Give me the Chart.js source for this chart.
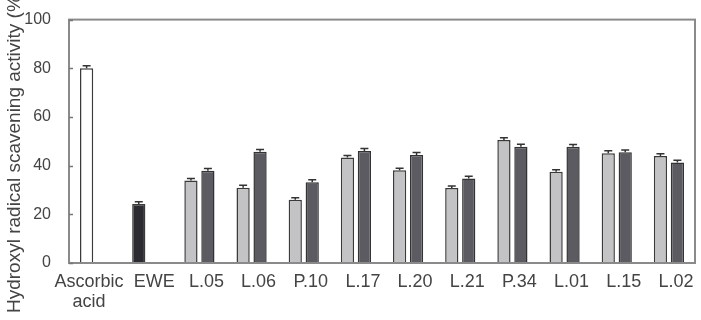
<!DOCTYPE html>
<html>
<head>
<meta charset="utf-8">
<script src="https://cdn.jsdelivr.net/npm/chart.js@4"></script>
<style>
  html, body { margin: 0; padding: 0; background: #fff; }
  #wrap { width: 701px; height: 320px; }
</style>
</head>
<body>
<div id="wrap"><canvas id="chart"></canvas></div>
<script>
const categories = [['Ascorbic', 'acid'], 'EWE', 'L.05', 'L.06', 'P.10', 'L.17', 'L.20', 'L.21', 'P.34', 'L.01', 'L.15', 'L.02'];
// first bar of each group (ascorbic acid, EWE, then light bars)
const firstValues = [80, 24.2, 33.9, 30.9, 26.0, 43.3, 38.1, 30.8, 50.5, 37.5, 45.1, 44.0];
const firstErrors = [1.0, 1.0, 0.8, 1.0, 0.8, 0.9, 0.8, 0.8, 1.0, 0.8, 1.0, 0.9];
// second (dark) bar of each group
const secondValues = [null, null, 37.9, 45.7, 33.2, 46.0, 44.4, 34.7, 47.8, 47.8, 45.5, 41.3];
const secondErrors = [null, null, 0.9, 0.9, 1.0, 1.0, 1.0, 0.9, 1.0, 0.9, 0.9, 0.9];
const yTicks = [0, 20, 40, 60, 80, 100];
const yTitle = 'Hydroxyl radical scavening activity (%)';

const FONT = 'Liberation Sans, Arial, sans-serif';
const TEXT = '#444';
const firstColors = firstValues.map((v, i) => i === 0 ? '#ffffff' : (i === 1 ? '#2b2b31' : '#c3c3c5'));

const errorBars = {
  id: 'errorBars',
  afterDatasetsDraw(chart) {
    const ctx = chart.ctx;
    const y = chart.scales.y;
    const errs = [firstErrors, secondErrors];
    ctx.save();
    ctx.strokeStyle = '#333';
    ctx.lineWidth = 1.5;
    chart.data.datasets.forEach((ds, di) => {
      const meta = chart.getDatasetMeta(di);
      meta.data.forEach((bar, i) => {
        const v = ds.data[i];
        const e = errs[di][i];
        if (v == null || e == null) return;
        const top = y.getPixelForValue(v + e);
        const base = y.getPixelForValue(v);
        ctx.beginPath();
        ctx.moveTo(bar.x, base);
        ctx.lineTo(bar.x, top);
        ctx.moveTo(bar.x - 4, top);
        ctx.lineTo(bar.x + 4, top);
        ctx.stroke();
      });
    });
    ctx.restore();
  }
};

// box, inward y ticks, x labels and rotated y title
const frame = {
  id: 'frame',
  afterDraw(chart) {
    const a = chart.chartArea;
    const ctx = chart.ctx;
    const x = chart.scales.x;
    const y = chart.scales.y;
    ctx.save();
    ctx.strokeStyle = '#8a8a8a';
    ctx.lineWidth = 2;
    ctx.strokeRect(a.left, a.top, a.right - a.left, a.bottom - a.top);

    ctx.lineWidth = 1.5;
    ctx.strokeStyle = '#777';
    yTicks.forEach(v => {
      const py = Math.round(y.getPixelForValue(v)) + 0.5;
      ctx.beginPath();
      ctx.moveTo(a.left, py);
      ctx.lineTo(a.left + 4, py);
      ctx.stroke();
    });

    ctx.fillStyle = TEXT;
    ctx.font = '18px ' + FONT;
    ctx.textAlign = 'center';
    ctx.textBaseline = 'alphabetic';
    categories.forEach((lab, i) => {
      const px = x.getPixelForTick(i) + (i === 0 ? -6 : 7);
      const lines = Array.isArray(lab) ? lab : [lab];
      lines.forEach((t, j) => ctx.fillText(t, px, 287 + j * 20));
    });

    ctx.translate(20, 313);
    ctx.rotate(-Math.PI / 2);
    ctx.font = '19px ' + FONT;
    ctx.textAlign = 'left';
    ctx.fillText(yTitle, 0, 0);
    ctx.restore();
  }
};

const ctx = document.getElementById('chart').getContext('2d');
new Chart(ctx, {
  type: 'bar',
  data: {
    labels: categories,
    datasets: [
      {
        data: firstValues,
        backgroundColor: firstColors,
        borderColor: '#3a3a3a',
        borderWidth: 1.5,
        categoryPercentage: 0.65,
        barPercentage: 0.78,
      },
      {
        data: secondValues,
        backgroundColor: '#5b5b61',
        borderColor: '#333333',
        borderWidth: 1.5,
        categoryPercentage: 0.65,
        barPercentage: 0.78,
      },
    ],
  },
  options: {
    responsive: true,
    maintainAspectRatio: false,
    animation: false,
    layout: { padding: { top: 16, right: 6, left: 0, bottom: 0 } },
    plugins: {
      legend: { display: false },
      tooltip: { enabled: false },
    },
    scales: {
      x: {
        grid: { display: false },
        border: { display: false },
        ticks: { display: false },
        afterFit(scale) { scale.height = 57; },
      },
      y: {
        min: 0,
        max: 100,
        afterBuildTicks(scale) { scale.ticks = yTicks.map(v => ({ value: v })); },
        grid: { display: false },
        border: { display: false },
        ticks: {
          color: TEXT,
          font: { family: FONT, size: 16 },
          padding: 10,
        },
        afterFit(scale) { scale.width = 69; },
      },
    },
  },
  plugins: [errorBars, frame],
});
</script>
</body>
</html>
